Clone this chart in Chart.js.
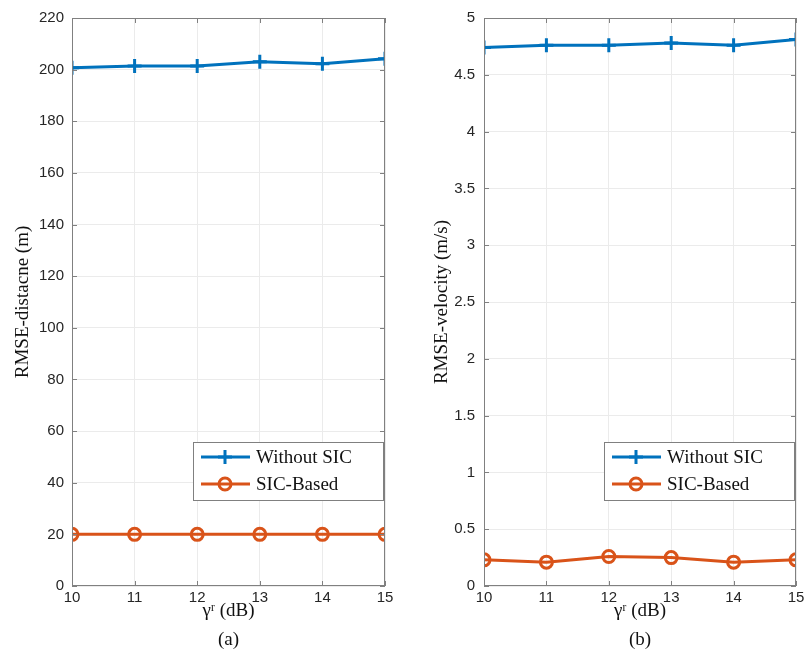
<!DOCTYPE html>
<html>
<head>
<meta charset="utf-8">
<script src="https://cdn.jsdelivr.net/npm/chart.js@4"></script>
<style>
  html, body { margin: 0; padding: 0; background: #fff; }
  #wrap { position: relative; width: 806px; height: 662px; }
  .box { position: absolute; top: 0; width: 403px; height: 662px; }
</style>
</head>
<body>
<div id="wrap">
  <div class="box" style="left:0"><canvas id="distChart"></canvas></div>
  <div class="box" style="left:403px"><canvas id="velChart"></canvas></div>
</div>
<script>
// data
var gammaDb = [10, 11, 12, 13, 14, 15];
var seriesNames = ['Without SIC', 'SIC-Based'];
var distWithoutSic = [200.7, 201.4, 201.4, 203.1, 202.3, 204.2];
var distSicBased = [20, 20, 20, 20, 20, 20];
var velWithoutSic = [4.74, 4.76, 4.76, 4.78, 4.76, 4.81];
var velSicBased = [0.23, 0.21, 0.26, 0.25, 0.21, 0.23];

var blue = '#0072BD';
var orange = '#D95319';
var tickFont = { family: 'Liberation Sans, Arial, sans-serif', size: 15 };
var serif = 'Liberation Serif, DejaVu Serif, serif';

function points(ys) {
    return gammaDb.map(function(x, i) { return { x: x, y: ys[i] }; });
}

function drawMarker(ctx, style, x, y, color) {
    ctx.save();
    ctx.strokeStyle = color;
    ctx.lineWidth = 3;
    ctx.beginPath();
    if (style === 'cross') {
        ctx.moveTo(x - 7, y); ctx.lineTo(x + 7, y);
        ctx.moveTo(x, y - 7); ctx.lineTo(x, y + 7);
    } else {
        ctx.arc(x, y, 6, 0, Math.PI * 2);
    }
    ctx.stroke();
    ctx.restore();
}

// matlab style box around the axes + legend inside the plot
var matlabBox = {
    id: 'matlabBox',
    afterDraw: function(chart) {
        var ctx = chart.ctx, a = chart.chartArea;
        ctx.save();
        ctx.strokeStyle = '#808080';
        ctx.lineWidth = 1;
        ctx.strokeRect(a.left + 0.5, a.top + 0.5, a.right - a.left - 1, a.bottom - a.top - 1);
        // small inward ticks
        var xs = chart.scales.x, ys = chart.scales.y;
        ctx.beginPath();
        xs.ticks.forEach(function(t) {
            var px = Math.round(xs.getPixelForValue(t.value)) + 0.5;
            ctx.moveTo(px, a.bottom); ctx.lineTo(px, a.bottom - 5);
            ctx.moveTo(px, a.top); ctx.lineTo(px, a.top + 5);
        });
        ys.ticks.forEach(function(t) {
            var py = Math.round(ys.getPixelForValue(t.value)) + 0.5;
            ctx.moveTo(a.left, py); ctx.lineTo(a.left + 5, py);
            ctx.moveTo(a.right, py); ctx.lineTo(a.right - 5, py);
        });
        ctx.stroke();

        // legend
        var w = 190, h = 58;
        var bx = a.right - 2 - w, by = a.bottom - 86 - h;
        ctx.fillStyle = '#fff';
        ctx.fillRect(bx, by, w, h);
        ctx.strokeStyle = '#808080';
        ctx.strokeRect(bx + 0.5, by + 0.5, w, h);
        ctx.font = '19px ' + serif;
        ctx.textBaseline = 'middle';
        chart.data.datasets.forEach(function(ds, i) {
            var ry = by + 15 + i * 27;
            ctx.strokeStyle = ds.borderColor;
            ctx.lineWidth = 3;
            ctx.beginPath();
            ctx.moveTo(bx + 8, ry); ctx.lineTo(bx + 57, ry);
            ctx.stroke();
            drawMarker(ctx, ds.pointStyle, bx + 32, ry, ds.borderColor);
            ctx.fillStyle = '#111';
            ctx.fillText(ds.label, bx + 63, ry + 1);
        });
        ctx.restore();
    }
};

function makeChart(id, withoutSic, sicBased, yMax, yStep, yTitle, caption, yWidth, padTop, padRight, titlePad, tickPad) {
    var ctx = document.getElementById(id).getContext('2d');
    return new Chart(ctx, {
        type: 'line',
        data: {
            datasets: [{
                label: seriesNames[0],
                data: points(withoutSic),
                borderColor: blue,
                backgroundColor: blue,
                borderWidth: 3,
                pointStyle: 'cross',
                pointRadius: 7,
                pointBorderWidth: 3,
                pointBackgroundColor: 'rgba(0,0,0,0)'
            }, {
                label: seriesNames[1],
                data: points(sicBased),
                borderColor: orange,
                backgroundColor: orange,
                borderWidth: 3,
                pointStyle: 'circle',
                pointRadius: 6,
                pointBorderWidth: 3,
                pointBackgroundColor: 'rgba(0,0,0,0)'
            }]
        },
        options: {
            responsive: false,
            animation: false,
            layout: { padding: { top: padTop, right: padRight, left: 0, bottom: 0 } },
            plugins: { legend: { display: false }, tooltip: { enabled: false } },
            scales: {
                x: {
                    type: 'linear',
                    min: 10, max: 15,
                    ticks: { stepSize: 1, color: '#262626', font: tickFont, padding: 3 },
                    grid: { color: '#ebebeb', drawTicks: false },
                    border: { display: false },
                    title: {
                        display: true,
                        text: ['\u03b3\u02b3 (dB)', '(' + caption + ')'],
                        font: { family: serif, size: 19, lineHeight: 1.5 },
                        color: '#111',
                        padding: { top: 0, bottom: 8 }
                    },
                    afterFit: function(s) { s.height = 76; s.paddingRight = 0; }
                },
                y: {
                    min: 0, max: yMax,
                    ticks: {
                        stepSize: yStep, color: '#262626', font: tickFont, padding: tickPad,
                        callback: function(v) { return String(Math.round(v * 100) / 100); }
                    },
                    grid: { color: '#ebebeb', drawTicks: false },
                    border: { display: false },
                    title: {
                        display: true,
                        text: yTitle,
                        font: { family: serif, size: 19 },
                        color: '#111',
                        padding: { top: titlePad, bottom: 0 }
                    },
                    afterFit: function(s) { s.width = yWidth; }
                }
            }
        },
        plugins: [matlabBox]
    });
}

var c1 = document.getElementById('distChart');
c1.width = 403; c1.height = 662;
var c2 = document.getElementById('velChart');
c2.width = 403; c2.height = 662;

makeChart('distChart', distWithoutSic, distSicBased, 220, 20, 'RMSE-distacne (m)', 'a', 72, 18, 18, 12, 8);
makeChart('velChart', velWithoutSic, velSicBased, 5, 0.5, 'RMSE-velocity (m/s)', 'b', 81, 15, 7, 28, 9);
</script>
</body>
</html>
